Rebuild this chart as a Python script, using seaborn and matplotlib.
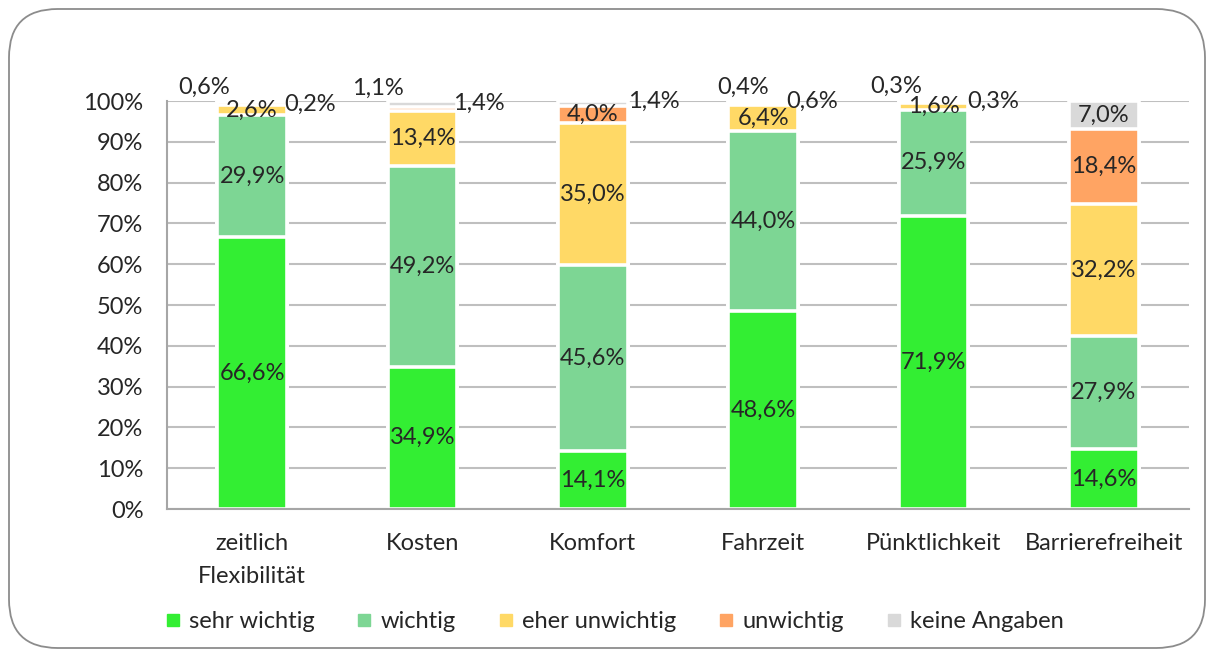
import numpy as np
import pandas as pd
import matplotlib
matplotlib.use("Agg")
import matplotlib.pyplot as plt
import seaborn as sns
from matplotlib.patches import FancyBboxPatch
from matplotlib.lines import Line2D

categories = ["zeitlich\nFlexibilität", "Kosten", "Komfort", "Fahrzeit", "Pünktlichkeit", "Barrierefreiheit"]
series_names = ["sehr wichtig", "wichtig", "eher unwichtig", "unwichtig", "keine Angaben"]
sehr_wichtig = [66.6, 34.9, 14.1, 48.6, 71.9, 14.6]
wichtig = [29.9, 49.2, 45.6, 44.0, 25.9, 27.9]
eher_unwichtig = [2.6, 13.4, 35.0, 6.4, 1.6, 32.2]
unwichtig = [0.6, 1.1, 4.0, 0.4, 0.3, 18.4]
keine_angaben = [0.2, 1.4, 1.4, 0.6, 0.3, 7.0]

colors = ["#33EE33", "#7DD694", "#FFD966", "#FFA463", "#D9D9D9"]

# small values are shown outside the bar (Excel-style manual label placement)
# (category index, series index, x offset, y position)
outside_labels = [
    (0, 3, -0.28, 103.4), (0, 4, 0.34, 99.2),
    (1, 3, -0.26, 103.2), (1, 4, 0.33, 99.5),
    (2, 4, 0.36, 100.0),
    (3, 3, -0.12, 103.3), (3, 4, 0.29, 99.8),
    (4, 3, -0.22, 103.6), (4, 4, 0.35, 99.8),
]

W, H, DPI = 1215, 657, 100
FONT = 17

sns.set_style("white")
plt.rcParams["font.family"] = ["Lato", "DejaVu Sans"]

fig = plt.figure(figsize=(W / DPI, H / DPI), dpi=DPI)
ax = fig.add_axes([167 / W, 1 - 509 / H, (1189 - 167) / W, (509 - 101) / H])

# rounded frame around the chart
frame = FancyBboxPatch((9 / W, 9 / H), (1205 - 9) / W, (648 - 9) / H,
                       boxstyle="round,pad=0,rounding_size=0.04",
                       transform=fig.transFigure, fill=False,
                       edgecolor="#8C8C8C", linewidth=1.3, mutation_aspect=W / H)
fig.patches.append(frame)

values = [sehr_wichtig, wichtig, eher_unwichtig, unwichtig, keine_angaben]
cum = np.cumsum(np.array(values), axis=0)

# draw cumulative bars from the top layer down, white edges separate segments
for i in range(len(series_names) - 1, -1, -1):
    df = pd.DataFrame({"cat": categories, "val": cum[i]})
    sns.barplot(data=df, x="cat", y="val", color=colors[i], saturation=1,
                width=0.41, edgecolor="white", linewidth=2.6, ax=ax, zorder=2)

ax.set_ylim(0, 100)
ax.set_xlim(-0.5, len(categories) - 0.5)
ax.set_yticks(np.arange(0, 101, 10))
ax.set_yticklabels([f"{v}%" for v in range(0, 101, 10)], fontsize=FONT)
ax.set_xticklabels(categories, fontsize=FONT, linespacing=1.7)
ax.tick_params(axis="x", length=0, pad=17)
ax.tick_params(axis="y", length=0, pad=17)
ax.set_xlabel("")
ax.set_ylabel("")
ax.yaxis.grid(True, color="#BFBFBF", linewidth=1.5, zorder=0)
ax.set_axisbelow(True)
for s in ["top", "right"]:
    ax.spines[s].set_visible(False)
ax.spines["left"].set_color("#A6A6A6")
ax.spines["left"].set_linewidth(1.5)
ax.spines["bottom"].set_color("#A6A6A6")
ax.spines["bottom"].set_linewidth(1.5)

outside = {(c, s): (dx, y) for c, s, dx, y in outside_labels}

def fmt(v):
    return f"{v:.1f}%".replace(".", ",")

for s in range(len(series_names)):
    for c in range(len(categories)):
        v = values[s][c]
        if (c, s) in outside:
            dx, y = outside[(c, s)]
            ax.text(c + dx, y, fmt(v), ha="center", va="center", fontsize=FONT,
                    clip_on=False, zorder=5)
        else:
            bottom = cum[s][c] - v
            ax.text(c, bottom + v / 2, fmt(v), ha="center", va="center",
                    fontsize=FONT, zorder=5)

handles = [Line2D([], [], marker="s", linestyle="none", markersize=9,
                  markerfacecolor=col, markeredgecolor=col) for col in colors]
fig.legend(handles, series_names, loc="center", bbox_to_anchor=(0.505, 1 - 622 / H),
           ncol=5, frameon=False, fontsize=FONT, handletextpad=0.3,
           columnspacing=1.7, handlelength=0.8)

fig.savefig("out.png", dpi=DPI)
